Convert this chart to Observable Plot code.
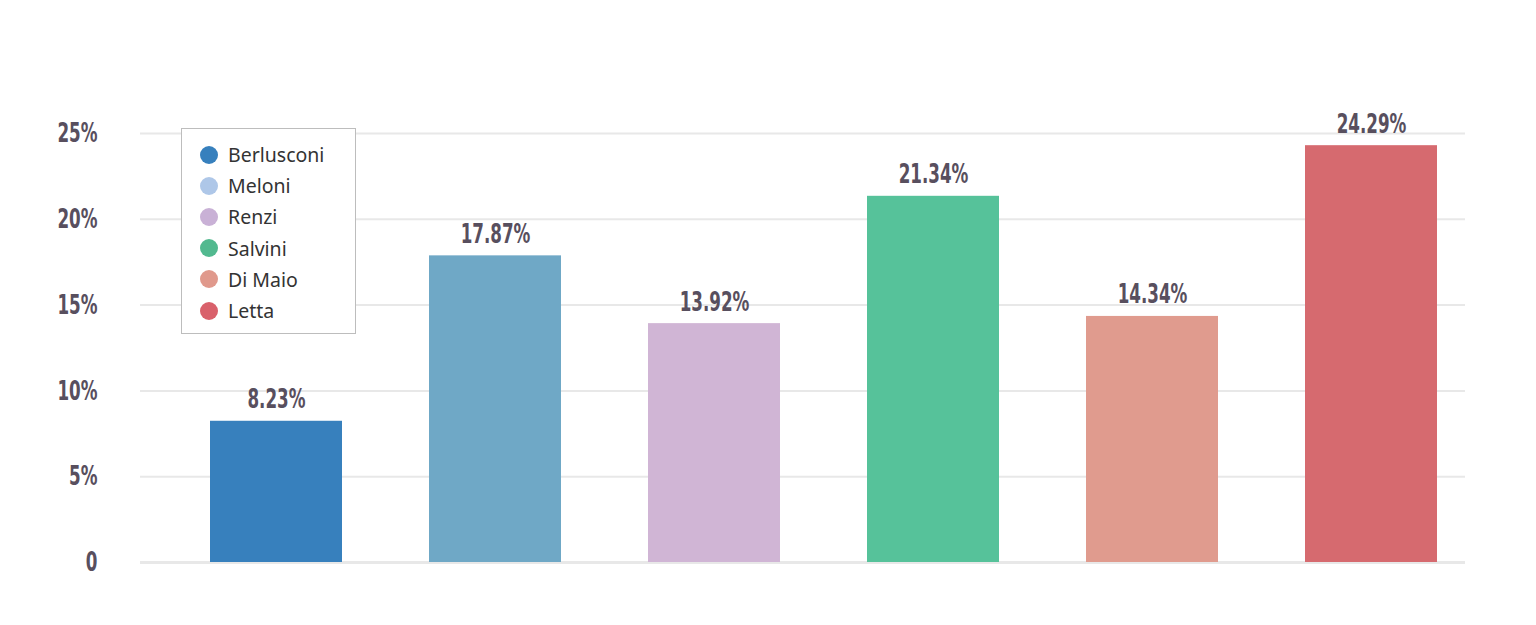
<!DOCTYPE html>
<html>
<head>
<meta charset="utf-8">
<script src="https://cdn.jsdelivr.net/npm/d3@7"></script>
<script src="https://cdn.jsdelivr.net/npm/@observablehq/plot@0.6"></script>
<style>
  html, body { margin: 0; padding: 0; background: #fff; }
  #wrap { position: relative; width: 1536px; height: 625px; }
  #legend {
    position: absolute; left: 181px; top: 128px; width: 175px; height: 206px;
    border: 1px solid #bdbdbd; background: #fff; box-sizing: border-box;
    font-family: "Noto Sans", "Open Sans", sans-serif; font-size: 19.5px; color: #333;
    padding-top: 10px;
  }
  .item { display: flex; align-items: center; height: 31.2px; padding-left: 18px; }
  .sw { width: 18px; height: 18px; border-radius: 50%; margin-right: 10px; }
  svg text { font-family: "DejaVu Sans", sans-serif; font-weight: bold; }
</style>
</head>
<body>
<div id="wrap"></div>
<script>
const names = ["Berlusconi", "Meloni", "Renzi", "Salvini", "Di Maio", "Letta"];
const values = [8.23, 17.87, 13.92, 21.34, 14.34, 24.29];
const barColors = ["#3780bd", "#6fa8c6", "#d0b5d5", "#56c29a", "#e09b8e", "#d66a6f"];
const legendColors = ["#3780bd", "#aec7e8", "#c9b1d6", "#52b98f", "#e0998c", "#d9616b"];
const yTicks = [0, 5, 10, 15, 20, 25];

const data = names.map((n, i) => ({name: n, value: values[i]}));

const chart = Plot.plot({
  width: 1536,
  height: 625,
  marginTop: 133,
  marginBottom: 63,
  marginLeft: 140,
  marginRight: 71,
  style: {background: "#fff", color: "#584f5e"},
  x: {type: "band", domain: names, paddingInner: 0.398, paddingOuter: 0.221, align: 0.711, axis: null, label: null},
  y: {domain: [0, 25], axis: null, label: null},
  color: {domain: names, range: barColors},
  marks: [
    Plot.gridY(yTicks.slice(1), {stroke: "#e8e8e8", strokeWidth: 2, strokeOpacity: 1}),
    Plot.ruleY([0], {stroke: "#e8e8e8", strokeWidth: 3}),
    Plot.axisY(yTicks, {
      tickSize: 0, tickPadding: 43, fontSize: 27, fill: "#584f5e", label: null,
      tickFormat: d => d === 0 ? "0" : d + "%"
    }),
    Plot.barY(data, {x: "name", y: "value", fill: "name"}),
    Plot.text(data, {
      x: "name", y: "value", text: d => d.value.toFixed(2) + "%",
      lineAnchor: "bottom", dy: -13, fontSize: 27, fill: "#584f5e"
    })
  ]
});

const wrap = document.getElementById("wrap");
wrap.appendChild(chart);

// condense the bold labels horizontally to match the narrow typeface
const squeeze = 0.62;
chart.querySelectorAll("text").forEach(t => {
  const w = t.getComputedTextLength();
  if (w > 0) {
    t.setAttribute("textLength", (w * squeeze).toFixed(2));
    t.setAttribute("lengthAdjust", "spacingAndGlyphs");
  }
});

const legend = document.createElement("div");
legend.id = "legend";
names.forEach((n, i) => {
  const it = document.createElement("div");
  it.className = "item";
  const sw = document.createElement("span");
  sw.className = "sw";
  sw.style.background = legendColors[i];
  const lb = document.createElement("span");
  lb.textContent = n;
  it.appendChild(sw); it.appendChild(lb);
  legend.appendChild(it);
});
wrap.appendChild(legend);
</script>
</body>
</html>
